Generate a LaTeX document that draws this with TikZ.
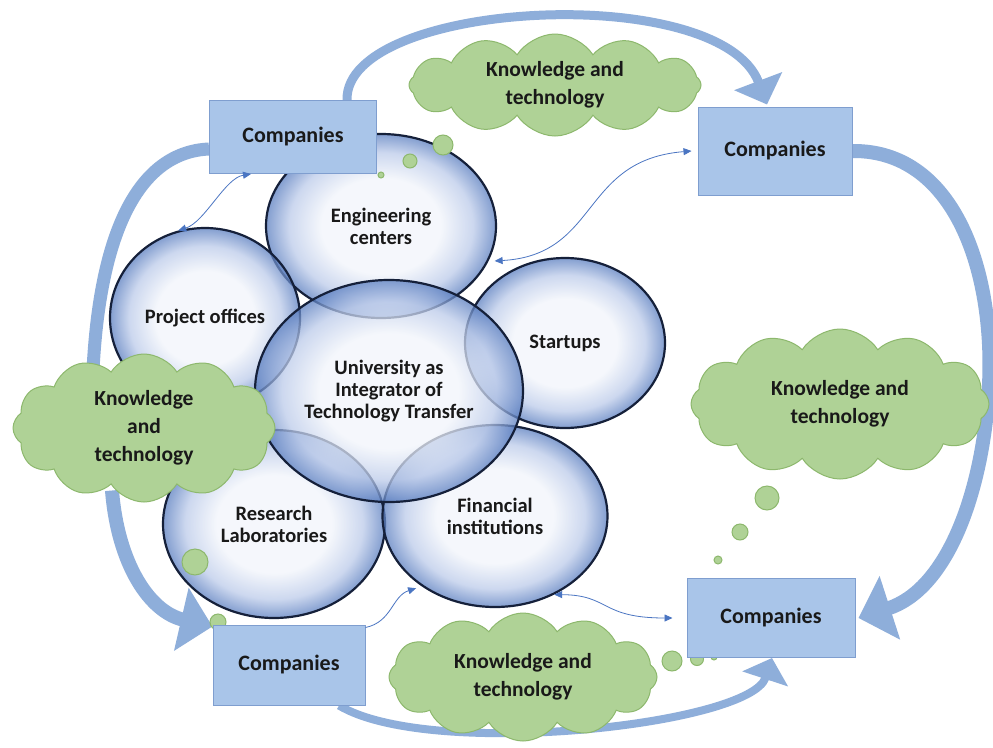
\documentclass[tikz,border=0pt]{standalone}
\usepackage{fontspec}
\setmainfont{Carlito}
\usetikzlibrary{shapes.geometric,shapes.symbols,arrows.meta,backgrounds}
\definecolor{boxblue}{HTML}{A9C5E9}
\definecolor{boxedge}{HTML}{7F9ECF}
\definecolor{cloudgreen}{HTML}{AFD296}
\definecolor{cloudedge}{HTML}{8DB86D}
\definecolor{ribbonblue}{HTML}{8EAEDA}
\definecolor{linkblue}{HTML}{4A75C2}
\definecolor{bubin}{HTML}{F2F5FB}
\definecolor{bubmid}{HTML}{BCCBEA}
\definecolor{bubout}{HTML}{5A7EC0}
\definecolor{bubline}{HTML}{15203A}
\pgfdeclareradialshading{bubbleshade}{\pgfpoint{0bp}{0bp}}{color(0bp)=(bubin); color(13bp)=(bubin); color(20bp)=(bubmid); color(25bp)=(bubout); color(50bp)=(bubout)}

\begin{document}
\begin{tikzpicture}[x=1pt, y=-1pt, >={Triangle[length=8pt,width=7pt]},
 company/.style={draw=boxedge, line width=1pt, fill=boxblue, text=black!90, font=\fontsize{22}{26}\selectfont\bfseries},
 bubble/.style={ellipse, draw=bubline, line width=2.2pt, shading=bubbleshade, fill opacity=0.75, text opacity=1, align=center, inner sep=0pt, text=black!90, font=\fontsize{20.5}{22}\selectfont\bfseries},
 idea/.style={cloud, cloud puffs=12, cloud puff arc=115, cloud ignores aspect, draw=cloudedge, line width=1pt, fill=cloudgreen, align=center, inner sep=0pt, text=black!90, font=\fontsize{21.5}{28}\selectfont\bfseries},
 dot/.style={circle, draw=cloudedge, line width=1pt, fill=cloudgreen, inner sep=0pt},
 flow/.style={draw=ribbonblue, line width=#1},
 link/.style={draw=linkblue, line width=0.8pt}]

\useasboundingbox (0,0) rectangle (993,747);

\node[bubble, minimum width=230pt, minimum height=184pt] (eng) at (381,226) {Engineering\\centers};
\node[bubble, minimum width=190pt, minimum height=180pt] (proj) at (205,318) {Project offices};
\node[bubble, minimum width=200pt, minimum height=170pt] (start) at (565,343) {Startups};
\node[bubble, minimum width=222pt, minimum height=188pt] (research) at (274,524) {Research\\Laboratories};
\node[bubble, minimum width=225pt, minimum height=182pt] (fin) at (495,516) {Financial\\institutions};
\node[bubble, minimum width=268pt, minimum height=222pt] (univ) at (389,391) {University as\\Integrator of\\Technology Transfer};

\node[idea, minimum width=292pt, minimum height=102pt] (kttop) at (555,85) {Knowledge and\\technology};
\node[idea, minimum width=262pt, minimum height=148pt] (ktleft) at (144,428) {Knowledge\\and\\technology};
\node[idea, minimum width=298pt, minimum height=150pt] (ktright) at (840,404) {Knowledge and\\technology};
\node[idea, minimum width=268pt, minimum height=128pt] (ktbot) at (523,677) {Knowledge and\\technology};

\node[dot, minimum size=20pt] (dota1) at (443,145) {};
\node[dot, minimum size=14pt] (dota2) at (410,161) {};
\node[dot, minimum size=6pt] (dota3) at (381,175) {};
\node[dot, minimum size=26pt] (dotb1) at (195,562) {};
\node[dot, minimum size=16pt] (dotb2) at (218,622) {};
\node[dot, minimum size=24pt] (dotc1) at (767,498) {};
\node[dot, minimum size=16pt] (dotc2) at (740,532) {};
\node[dot, minimum size=8pt] (dotc3) at (718,560) {};
\node[dot, minimum size=20pt] (dotd1) at (672,661) {};
\node[dot, minimum size=13pt] (dotd2) at (697,659) {};
\node[dot, minimum size=6pt] (dotd3) at (714,657) {};

\node[company, minimum width=167pt, minimum height=73pt] (ctl) at (293,137) {Companies};
\node[company, minimum width=154pt, minimum height=88pt] (ctr) at (775,151) {Companies};
\node[company, minimum width=152pt, minimum height=80pt] (cbl) at (289,665) {Companies};
\node[company, minimum width=168pt, minimum height=79pt] (cbr) at (771,618) {Companies};

\begin{scope}[on background layer]
 \fill[white] (0,0) rectangle (993,747);
 \path[flow=9pt, -{Triangle[width=50pt,length=25pt]}] ([xshift=54pt]ctl.north) .. controls (345,0) and (720,-20) .. ([xshift=-8pt,yshift=2pt]ctr.north);
 \path[flow=14pt, -{Triangle[width=65pt,length=33pt]}] (ctr.east) .. controls (958,150) and (998,280) .. (988,400) .. controls (980,500) and (945,590) .. ([xshift=3pt]cbr.east);
 \path[flow=13pt] ([yshift=-12pt]ctl.west) .. controls (140,152) and (95,230) .. (92,400);
 \path[flow=14pt, -{Triangle[width=63pt,length=32pt]}] ([xshift=-32pt,yshift=12pt]ktleft.south) .. controls (118,565) and (150,612) .. ([yshift=-2pt]cbl.north west);
 \path[flow=8pt, -{Triangle[width=47pt,length=22pt]}] ([xshift=50pt]cbl.south) .. controls (430,760) and (750,725) .. ([xshift=1pt]cbr.south);
\end{scope}

\path[link, <->] ([xshift=-42pt]ctl.south) .. controls (225,178) and (205,222) .. (proj.107);
\path[link, <->] ([xshift=6pt]eng.-18) .. controls (600,255) and (580,160) .. ([xshift=-6pt]ctr.west);
\path[link, ->] ([yshift=-3pt]cbl.north east) .. controls (392,622) and (392,596) .. ([yshift=-6pt]fin.-140);
\path[link, <->] (fin.-53) .. controls (610,595) and (600,618) .. ([xshift=-14pt]cbr.west);
\end{tikzpicture}
\end{document}
